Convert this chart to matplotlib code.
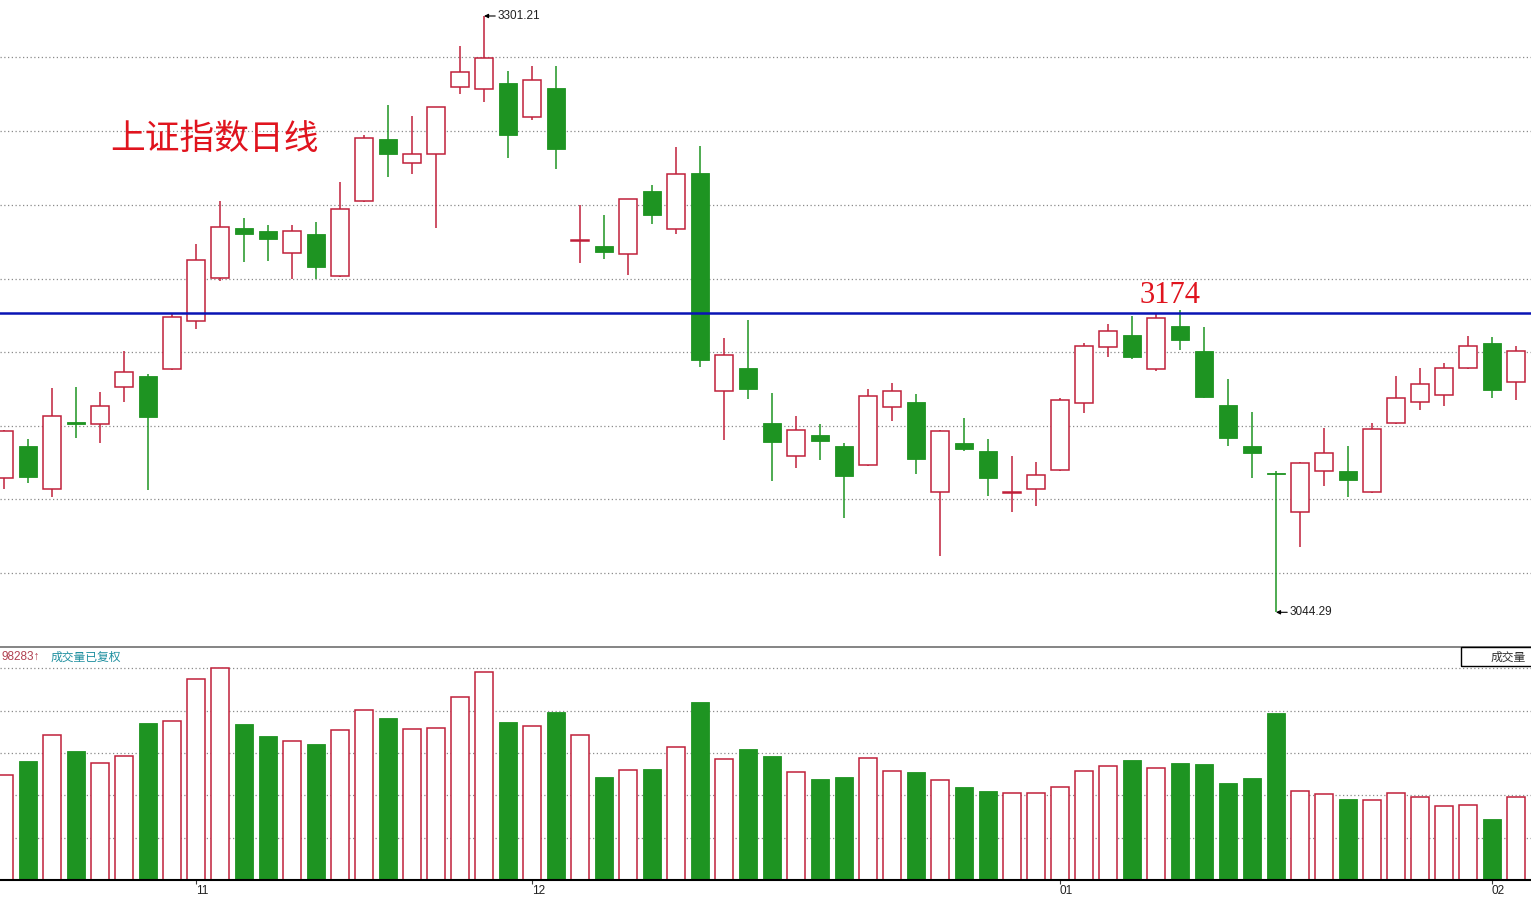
import matplotlib
matplotlib.use('Agg')
import matplotlib.pyplot as plt
from matplotlib.patches import Rectangle
import numpy as np

plt.rcParams['font.family'] = ['Noto Sans CJK SC', 'DejaVu Sans']

# ---------------- data ----------------
opens = [3102.0, 3115.9, 3097.3, 3126.3, 3125.3, 3141.2, 3146.1, 3149.0, 3169.7, 3188.2,
         3209.7, 3208.6, 3199.0, 3207.2, 3189.1, 3221.4, 3248.1, 3237.7, 3241.6, 3270.5,
         3269.6, 3272.3, 3257.6, 3270.2, 3204.3, 3202.1, 3198.8, 3225.8, 3209.6, 3233.6,
         3139.5, 3149.5, 3125.9, 3111.8, 3120.7, 3115.9, 3107.6, 3132.6, 3134.8, 3096.0,
         3117.2, 3113.8, 3095.8, 3097.6, 3105.5, 3134.3, 3158.5, 3163.6, 3149.0, 3167.6,
         3156.9, 3133.6, 3115.9, 3104.2, 3087.4, 3105.0, 3105.2, 3096.0, 3125.7, 3134.8,
         3137.8, 3149.4, 3160.3, 3143.4]
closes = [3122.4, 3102.7, 3128.7, 3125.4, 3133.1, 3147.7, 3128.6, 3171.4, 3196.0, 3210.2,
          3207.4, 3205.3, 3208.4, 3193.2, 3217.9, 3248.5, 3241.6, 3241.6, 3261.9, 3277.0,
          3283.0, 3250.1, 3273.5, 3244.0, 3204.6, 3199.5, 3222.2, 3215.5, 3233.1, 3153.0,
          3155.0, 3140.6, 3117.7, 3122.7, 3118.2, 3103.1, 3137.4, 3139.5, 3110.5, 3122.3,
          3114.8, 3102.3, 3096.0, 3103.3, 3135.8, 3158.9, 3165.4, 3154.4, 3171.0, 3161.7,
          3136.9, 3119.5, 3113.1, 3103.8, 3108.5, 3112.9, 3101.4, 3123.1, 3136.5, 3142.5,
          3149.4, 3158.9, 3140.2, 3156.9]
highs = [3122.8, 3119.0, 3140.9, 3141.5, 3139.2, 3156.9, 3147.0, 3173.1, 3202.8, 3221.4,
         3214.1, 3211.0, 3211.0, 3212.5, 3229.6, 3249.8, 3262.7, 3258.0, 3262.1, 3288.3,
         3301.21, 3277.5, 3279.7, 3279.7, 3219.6, 3215.5, 3222.5, 3228.4, 3244.9, 3245.3,
         3162.5, 3170.2, 3138.7, 3128.9, 3125.4, 3117.1, 3140.6, 3143.1, 3138.3, 3122.8,
         3128.1, 3119.0, 3111.6, 3109.1, 3136.6, 3160.5, 3168.5, 3172.0, 3172.7, 3174.5,
         3167.1, 3144.9, 3130.6, 3105.2, 3109.2, 3123.7, 3116.1, 3125.9, 3146.1, 3149.5,
         3151.7, 3163.3, 3162.8, 3158.9]
lows = [3097.3, 3100.1, 3094.1, 3119.5, 3117.4, 3135.0, 3097.0, 3148.7, 3166.2, 3187.2,
        3195.4, 3195.7, 3187.8, 3187.8, 3188.6, 3221.0, 3232.0, 3233.3, 3210.0, 3267.6,
        3264.0, 3239.9, 3256.5, 3235.3, 3194.9, 3196.5, 3189.8, 3211.7, 3207.4, 3150.1,
        3118.7, 3136.3, 3100.9, 3106.5, 3109.9, 3084.9, 3107.5, 3126.7, 3103.9, 3068.5,
        3113.9, 3094.4, 3087.6, 3090.2, 3105.2, 3130.3, 3154.4, 3153.3, 3148.1, 3157.4,
        3136.6, 3116.1, 3102.2, 3044.29, 3072.6, 3098.8, 3094.1, 3095.7, 3125.6, 3131.6,
        3133.3, 3149.3, 3136.5, 3135.6]
volumes = [123.7, 140.6, 170.9, 152.4, 137.9, 146.1, 185.4, 187.8, 237.1, 250.1,
           184.3, 170.1, 164.2, 160.6, 177.2, 200.5, 191.4, 178.0, 179.2, 215.8,
           245.3, 186.6, 181.6, 198.8, 170.9, 121.7, 129.6, 131.1, 156.7, 210.3,
           142.9, 154.7, 146.5, 127.2, 119.3, 121.7, 143.7, 128.4, 127.6, 117.8,
           109.9, 105.1, 102.4, 102.4, 109.9, 128.4, 134.3, 141.8, 131.9, 138.2,
           137.0, 114.6, 120.5, 197.3, 104.8, 101.2, 95.7, 94.1, 102.4, 97.7,
           87.4, 88.6, 72.1, 97.7]

month_ticks = [8, 22, 44, 62]
month_labels = ['11', '12', '01', '02']
price_grid = [3283.4, 3251.5, 3219.8, 3188.1, 3156.3, 3124.4, 3092.9, 3061.1]
volume_grid = [50, 100, 150, 200, 250]
resistance = 3173.2
resistance_label = '3174'
title = '上证指数日线'
high_idx, high_label = 20, '3301.21'
low_idx, low_label = 53, '3044.29'
vol_label_value = '98283↑'
vol_label_text = '成交量已复权'
vol_box_text = '成交量'

# ---------------- style ----------------
RED = '#C0203A'
GREEN = '#1E9422'
BLUE = '#0A14B4'
GRID = '#8A8A8A'

W, H = 1531, 897
fig = plt.figure(figsize=(W / 100, H / 100), dpi=100)
fig.patch.set_facecolor('white')

price_bottom_px = 647
vol_bottom_px = 880
ax = fig.add_axes([0, 1 - price_bottom_px / H, 1, price_bottom_px / H])
axv = fig.add_axes([0, (H - vol_bottom_px) / H, 1, (vol_bottom_px - price_bottom_px) / H])

x = np.arange(len(opens))
o = np.array(opens); c = np.array(closes)
h = np.array(highs); l = np.array(lows)
up = c >= o
colors = np.where(up, RED, GREEN)
width = 0.77

# ----- price panel -----
for g in price_grid:
    ax.axhline(g, color=GRID, lw=0.9, ls=(0, (1, 2)), zorder=0)

ax.vlines(x, l, h, colors=colors, lw=1.1, zorder=1)
body_bottom = np.minimum(o, c)
body_h = np.maximum(np.abs(c - o), 0.5)
ax.bar(x[up], body_h[up], bottom=body_bottom[up], width=width,
       facecolor='white', edgecolor=RED, lw=1.1, zorder=2)
ax.bar(x[~up], body_h[~up], bottom=body_bottom[~up], width=width,
       facecolor=GREEN, edgecolor=GREEN, lw=0.6, zorder=2)

ax.axhline(resistance, color=BLUE, lw=1.8, zorder=3)

ax.set_xlim(-4 / 24, (W - 4) / 24)
ax.set_ylim(3029.34, 3308.10)
ax.axis('off')

ax.text(214 / W, 1 - 139 / price_bottom_px, title, transform=ax.transAxes,
        ha='center', va='center', fontsize=25, color='#E0141E',
        family=['Noto Sans CJK SC', 'DejaVu Sans'])
ax.annotate(resistance_label, xy=(48.6, resistance), xytext=(0, 10),
            textcoords='offset pixels', ha='center', va='baseline',
            fontsize=22, color='#E0141E', family='Liberation Serif')

arrow = dict(arrowstyle='-|>', color='black', lw=0.8, shrinkA=0, shrinkB=0,
             mutation_scale=6)
ax.annotate(high_label, xy=(high_idx, highs[high_idx]), xytext=(14, 0),
            textcoords='offset pixels', ha='left', va='center', fontsize=8.5,
            family='Liberation Sans', color='#202020', arrowprops=arrow)
ax.annotate(low_label, xy=(low_idx, lows[low_idx]), xytext=(14, 0),
            textcoords='offset pixels', ha='left', va='center', fontsize=8.5,
            family='Liberation Sans', color='#202020', arrowprops=arrow)

# ----- volume panel -----
for g in volume_grid:
    axv.axhline(g, color=GRID, lw=0.9, ls=(0, (1, 2)), zorder=0)
v = np.array(volumes)
axv.bar(x[up], v[up], width=width, facecolor='white', edgecolor=RED, lw=1.1, zorder=2)
axv.bar(x[~up], v[~up], width=width, facecolor=GREEN, edgecolor=GREEN, lw=0.6, zorder=2)
axv.set_xlim(-4 / 24, (W - 4) / 24)
axv.set_ylim(0, (vol_bottom_px - price_bottom_px) / 42.33 * 50)
for s in ['left', 'right']:
    axv.spines[s].set_visible(False)
axv.spines['top'].set_color('#707070')
axv.spines['top'].set_linewidth(1.2)
axv.spines['bottom'].set_color('black')
axv.spines['bottom'].set_linewidth(1.5)
axv.set_yticks([])
axv.set_xticks(month_ticks)
axv.set_xticklabels(month_labels, ha='left', fontsize=8.5, family='Liberation Sans',
                    color='#202020')
axv.tick_params(axis='x', direction='out', length=3, width=0.8, pad=0.5, color='#404040')

fig.text(2 / W, 1 - 657 / H, vol_label_value, ha='left', va='center', fontsize=8.5,
         color='#B04050', family=['Liberation Sans', 'DejaVu Sans'])
fig.text(51 / W, 1 - 657 / H, vol_label_text, ha='left', va='center', fontsize=8.5,
         color='#2090A0')
fig.patches.append(Rectangle((1461 / W, 1 - 666 / H), 80 / W, 19 / H,
                             transform=fig.transFigure, fill=False,
                             edgecolor='black', lw=1))
fig.text(1526 / W, 1 - 657 / H, vol_box_text, ha='right', va='center', fontsize=8.5,
         color='#303030')

fig.savefig('out.png', dpi=100, facecolor='white')
